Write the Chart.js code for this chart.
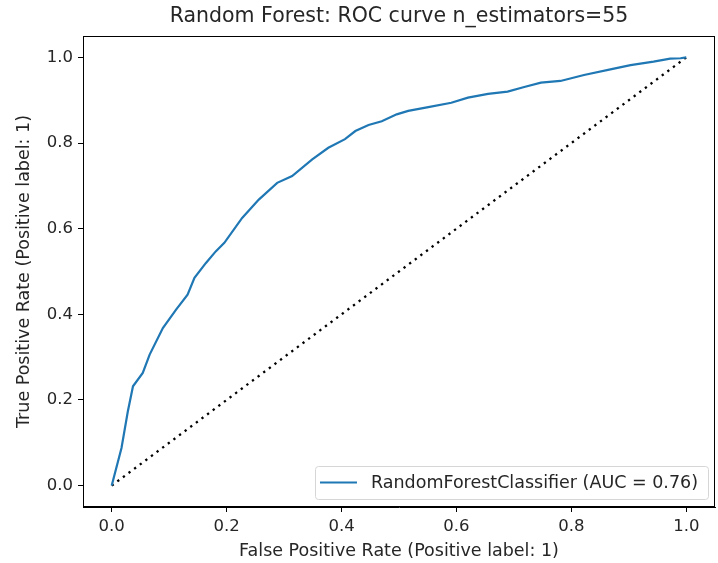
<!DOCTYPE html>
<html>
<head>
<meta charset="utf-8">
<script src="https://cdn.jsdelivr.net/npm/chart.js@4/dist/chart.umd.min.js"></script>
<style>
  body { margin: 0; background: #fff; }
  #wrap { width: 718px; height: 563px; position: relative; }
</style>
</head>
<body>
<div id="wrap"><canvas id="rocChart"></canvas></div>
<script>
// ROC curve
const fpr = [0, 0.017, 0.028, 0.037, 0.054, 0.066, 0.089, 0.112, 0.132, 0.144,
    0.164, 0.181, 0.196, 0.227, 0.256, 0.288, 0.314, 0.349, 0.377, 0.406,
    0.424, 0.447, 0.470, 0.496, 0.516, 0.551, 0.591, 0.620, 0.655, 0.689,
    0.718, 0.747, 0.781, 0.822, 0.868, 0.903, 0.943, 0.972, 0.990, 1.0];
const tpr = [0, 0.088, 0.173, 0.232, 0.263, 0.306, 0.368, 0.411, 0.446, 0.485,
    0.520, 0.547, 0.567, 0.625, 0.668, 0.707, 0.723, 0.762, 0.789, 0.809,
    0.828, 0.842, 0.851, 0.867, 0.875, 0.884, 0.894, 0.906, 0.915, 0.920,
    0.931, 0.941, 0.945, 0.959, 0.972, 0.982, 0.990, 0.997, 0.998, 1.0];
const chanceX = [0, 1];
const chanceY = [0, 1];
const xTicks = [0, 0.2, 0.4, 0.6, 0.8, 1.0];
const yTicks = [0, 0.2, 0.4, 0.6, 0.8, 1.0];
const curveLabel = 'RandomForestClassifier (AUC = 0.76)';

const FONT = 'DejaVu Sans';
const TXT = '#262626';
const LABEL_SIZE = 17.5;
const TICK_SIZE = 16.5;

const toPoints = (xs, ys) => xs.map((x, i) => ({ x: x, y: ys[i] }));

// frame on all four sides + legend box inside the axes
const framePlugin = {
    id: 'frame',
    afterDraw(chart) {
        const ctx = chart.ctx;
        const ca = chart.chartArea;
        ctx.save();
        ctx.strokeStyle = '#000';
        ctx.lineWidth = 1;
        ctx.strokeRect(ca.left + 0.5, ca.top + 0.5, ca.right - ca.left - 1, ca.bottom - ca.top - 1);

        // legend
        ctx.font = LABEL_SIZE + 'px "' + FONT + '"';
        const tw = ctx.measureText(curveLabel).width;
        const boxR = ca.right - 7;
        const boxB = ca.bottom - 8;
        const boxW = tw + 66;
        const boxH = 33;
        const boxL = boxR - boxW;
        const boxT = boxB - boxH;
        ctx.beginPath();
        ctx.roundRect(boxL + 0.5, boxT + 0.5, boxW, boxH, 3);
        ctx.fillStyle = 'rgba(255,255,255,0.8)';
        ctx.fill();
        ctx.strokeStyle = '#d6d6d6';
        ctx.stroke();
        const midY = boxT + boxH / 2;
        ctx.beginPath();
        ctx.moveTo(boxL + 5, midY);
        ctx.lineTo(boxL + 42, midY);
        ctx.strokeStyle = '#1f77b4';
        ctx.lineWidth = 2.2;
        ctx.stroke();
        ctx.fillStyle = TXT;
        ctx.textBaseline = 'middle';
        ctx.textAlign = 'left';
        ctx.fillText(curveLabel, boxL + 56, midY + 1);
        ctx.restore();
    }
};

const ctx = document.getElementById('rocChart').getContext('2d');
new Chart(ctx, {
    type: 'scatter',
    data: {
        datasets: [{
            label: curveLabel,
            data: toPoints(fpr, tpr),
            showLine: true,
            borderColor: '#1f77b4',
            borderWidth: 2.2,
            pointRadius: 0,
            tension: 0
        }, {
            label: 'chance',
            data: toPoints(chanceX, chanceY),
            showLine: true,
            borderColor: '#000',
            borderWidth: 2.3,
            borderDash: [2.3, 4.7],
            pointRadius: 0,
            tension: 0
        }]
    },
    options: {
        responsive: true,
        maintainAspectRatio: false,
        animation: false,
        layout: { padding: { left: 0, right: 3, top: 0, bottom: 0 } },
        plugins: {
            legend: { display: false },
            tooltip: { enabled: false },
            title: {
                display: true,
                fullSize: false,
                text: 'Random Forest: ROC curve n_estimators=55',
                color: TXT,
                font: { family: FONT, size: 20.5, weight: 'normal', lineHeight: 1.2 },
                padding: { top: 4, bottom: 7.4 }
            }
        },
        scales: {
            x: {
                type: 'linear',
                min: -0.05,
                max: 1.05,
                afterBuildTicks: (s) => { s.ticks = xTicks.map(v => ({ value: v })); },
                afterFit: (s) => { s.height = 56; },
                ticks: {
                    color: TXT,
                    padding: 5,
                    font: { family: FONT, size: TICK_SIZE },
                    callback: (v) => Number(v).toFixed(1)
                },
                grid: { drawOnChartArea: false, drawTicks: true, tickLength: 5, tickColor: '#000', tickWidth: 1 },
                border: { display: true, color: '#000', width: 1 },
                title: {
                    display: true,
                    text: 'False Positive Rate (Positive label: 1)',
                    color: TXT,
                    font: { family: FONT, size: LABEL_SIZE, lineHeight: 1.2 },
                    padding: { top: 0, bottom: 1.5 }
                }
            },
            y: {
                type: 'linear',
                min: -0.05,
                max: 1.05,
                afterBuildTicks: (s) => { s.ticks = yTicks.map(v => ({ value: v })); },
                afterFit: (s) => { s.width = 83; },
                ticks: {
                    color: TXT,
                    padding: 5,
                    font: { family: FONT, size: TICK_SIZE },
                    callback: (v) => Number(v).toFixed(1)
                },
                grid: { drawOnChartArea: false, drawTicks: true, tickLength: 5, tickColor: '#000', tickWidth: 1 },
                border: { display: true, color: '#000', width: 1 },
                title: {
                    display: true,
                    text: 'True Positive Rate (Positive label: 1)',
                    color: TXT,
                    font: { family: FONT, size: LABEL_SIZE, lineHeight: 1.2 },
                    padding: { top: 14.4, bottom: 0 }
                }
            }
        }
    },
    plugins: [framePlugin]
});
</script>
</body>
</html>
